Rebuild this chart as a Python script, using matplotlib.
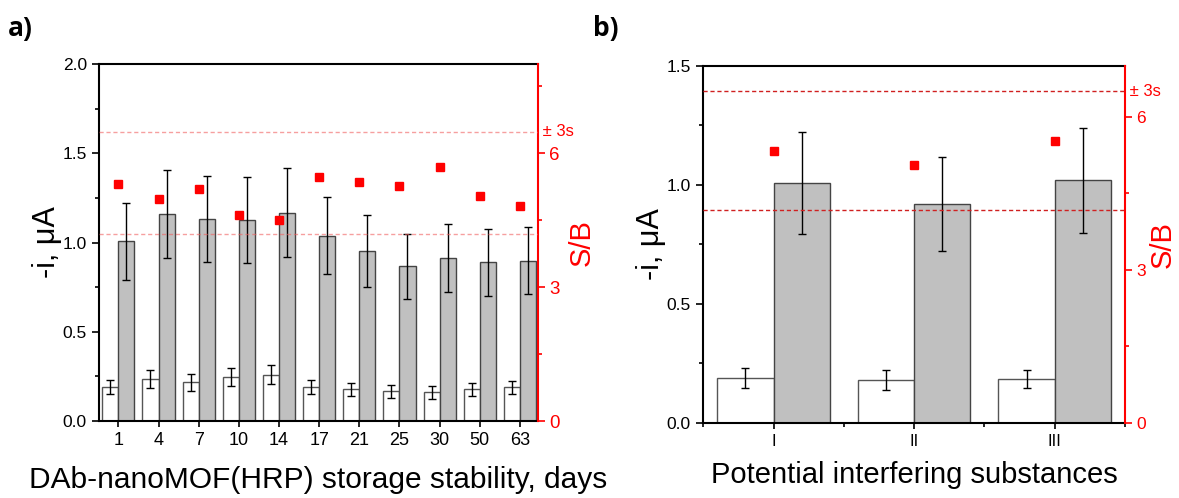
import matplotlib
matplotlib.use('Agg')
import matplotlib.pyplot as plt
import numpy as np
from matplotlib.ticker import MultipleLocator, FixedLocator

plt.rcParams['font.family'] = ['Liberation Sans', 'DejaVu Sans']

# panel a data - storage stability
days = ['1', '4', '7', '10', '14', '17', '21', '25', '30', '50', '63']
blank_a = [0.189, 0.233, 0.218, 0.246, 0.258, 0.189, 0.178, 0.166, 0.160, 0.177, 0.188]
blank_a_err = [0.038, 0.050, 0.048, 0.050, 0.053, 0.038, 0.037, 0.036, 0.034, 0.037, 0.038]
signal_a = [1.007, 1.160, 1.132, 1.127, 1.168, 1.037, 0.952, 0.866, 0.912, 0.888, 0.899]
signal_a_err = [0.215, 0.246, 0.242, 0.240, 0.249, 0.216, 0.200, 0.183, 0.192, 0.189, 0.189]
sb_a = [5.32, 4.97, 5.19, 4.61, 4.51, 5.47, 5.35, 5.26, 5.70, 5.04, 4.81]
sb_a_lim = [4.20, 6.48]

# panel b data - interferences
subs = ['I', 'II', 'III']
blank_b = [0.188, 0.179, 0.182]
blank_b_err = [0.041, 0.041, 0.038]
signal_b = [1.006, 0.919, 1.018]
signal_b_err = [0.214, 0.197, 0.220]
sb_b = [5.33, 5.05, 5.53]
sb_b_lim = [4.18, 6.50]

RED = '#ff0000'
GRAY = '#c0c0c0'

fig = plt.figure(figsize=(11.79, 4.98), dpi=100)
ax1 = fig.add_axes([0.0842, 0.1546, 0.3721, 0.7169])
ax2 = fig.add_axes([0.5965, 0.1512, 0.3577, 0.7169])


def draw_panel(ax, labels, blank, blank_err, signal, signal_err, sb, sb_lim,
               ylim, yticks, sblim, xlim, lim_color, lim_alpha, rfs, sbpad):
    x = np.arange(len(labels))
    w = 0.4
    ax.bar(x - w / 2, blank, w, color='white', edgecolor='#555555', lw=1, zorder=2)
    ax.bar(x + w / 2, signal, w, color=GRAY, edgecolor='#444444', lw=1, zorder=2)
    ax.errorbar(x - w / 2, blank, yerr=blank_err, fmt='none', ecolor='black',
                elinewidth=1, capsize=3, capthick=1, zorder=3)
    ax.errorbar(x + w / 2, signal, yerr=signal_err, fmt='none', ecolor='black',
                elinewidth=1, capsize=3, capthick=1, zorder=3)
    ax.set_xlim(*xlim)
    ax.set_ylim(*ylim)
    ax.set_xticks(x)
    ax.set_xticklabels(labels, fontsize=13)
    ax.yaxis.set_major_locator(MultipleLocator(yticks))
    ax.yaxis.set_minor_locator(MultipleLocator(yticks / 2))
    ax.tick_params(axis='y', which='major', direction='out', length=5, width=1.2,
                   labelsize=12.5, pad=4)
    ax.tick_params(axis='y', which='minor', direction='out', length=3, width=1.2)
    ax.tick_params(axis='x', which='major', direction='out', length=4.5, width=1.2)
    for s in ['left', 'bottom', 'top']:
        ax.spines[s].set_linewidth(1.5)
    ax.spines['right'].set_visible(False)
    ax.set_ylabel('-i, μA', fontsize=22, labelpad=0)

    tw = ax.twinx()
    tw.set_ylim(0, sblim)
    tw.set_xlim(*xlim)
    tw.plot(x, sb, 's', color=RED, markersize=6, zorder=5)
    for v in sb_lim:
        tw.axhline(v, color=lim_color, alpha=lim_alpha, lw=1, ls=(0, (3, 2)), zorder=4)
    tw.text(1.0, sb_lim[1], ' ± 3s', color=RED, fontsize=12, va='center', ha='left',
            transform=tw.get_yaxis_transform())
    tw.yaxis.set_major_locator(MultipleLocator(3))
    tw.yaxis.set_minor_locator(MultipleLocator(1.5))
    tw.tick_params(axis='y', which='major', colors=RED, direction='out', length=5,
                   width=1.2, labelsize=rfs, pad=3)
    tw.tick_params(axis='y', which='minor', colors=RED, direction='out', length=3, width=1.2)
    for s in ['left', 'bottom', 'top']:
        tw.spines[s].set_visible(False)
    tw.spines['right'].set_color(RED)
    tw.spines['right'].set_linewidth(1.5)
    tw.set_ylabel('S/B', color=RED, fontsize=21, labelpad=sbpad)
    return tw


draw_panel(ax1, days, blank_a, blank_a_err, signal_a, signal_a_err, sb_a, sb_a_lim,
           (0, 2.0), 0.5, 8, (-0.475, 10.45), '#f06060', 0.6, 13.5, 6)
ax1.set_xlabel('DAb-nanoMOF(HRP) storage stability, days', fontsize=21.5, labelpad=12)

draw_panel(ax2, subs, blank_b, blank_b_err, signal_b, signal_b_err, sb_b, sb_b_lim,
           (0, 1.5), 0.5, 7, (-0.5, 2.5), '#d02020', 1.0, 12.5, 2)
ax2.xaxis.set_minor_locator(FixedLocator([-0.5, 0.5, 1.5, 2.5]))
ax2.tick_params(axis='x', which='minor', direction='out', length=3, width=1.2)
ax2.tick_params(axis='x', which='major', labelsize=12)
ax2.set_xlabel('Potential interfering substances', fontsize=21, labelpad=9)

fig.text(0.007, 0.928, 'a)', fontsize=19, fontweight='bold', family='Open Sans')
fig.text(0.503, 0.928, 'b)', fontsize=19, fontweight='bold', family='Open Sans')

fig.savefig('out.png', dpi=100)
